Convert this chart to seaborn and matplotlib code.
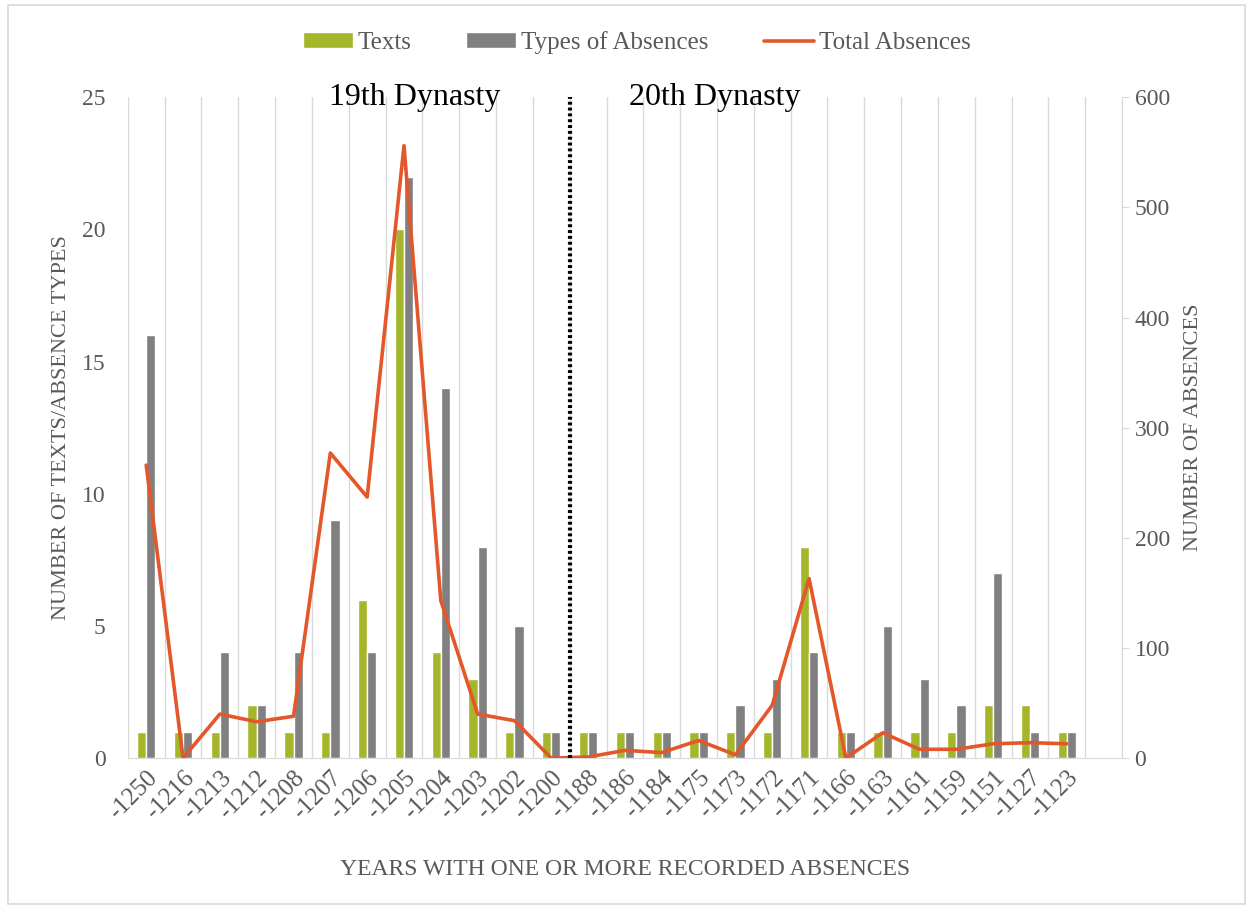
import numpy as np
import pandas as pd
import matplotlib
matplotlib.use('Agg')
import matplotlib.pyplot as plt
import seaborn as sns
from matplotlib.patches import Patch, Rectangle
from matplotlib.lines import Line2D

years = ['-1250', '-1216', '-1213', '-1212', '-1208', '-1207', '-1206', '-1205',
         '-1204', '-1203', '-1202', '-1200', '-1188', '-1186', '-1184', '-1175',
         '-1173', '-1172', '-1171', '-1166', '-1163', '-1161', '-1159', '-1151',
         '-1127', '-1123', '']
texts = [1, 1, 1, 2, 1, 1, 6, 20, 4, 3, 1, 1,
         1, 1, 1, 1, 1, 1, 8, 1, 1, 1, 1, 2, 2, 1, np.nan]
types_abs = [16, 1, 4, 2, 4, 9, 4, 22, 14, 8, 5, 1,
             1, 1, 1, 1, 2, 3, 4, 1, 5, 3, 2, 7, 1, 1, np.nan]
total_abs = [266, 0, 40, 33, 38, 277, 237, 556, 143, 40, 34, 0,
             1, 7, 5, 16, 3, 48, 163, 0, 23, 8, 8, 13, 14, 13, np.nan]

green = '#A5B62B'
grey = '#808080'
orange = '#E4572A'
txt_grey = '#595959'

sns.set_style('white')
plt.rcParams['font.family'] = ['Liberation Serif', 'DejaVu Serif']

df = pd.DataFrame({'year': years * 2,
                   'value': texts + types_abs,
                   'series': ['Texts'] * len(years) + ['Types of Absences'] * len(years)})

fig = plt.figure(figsize=(12.53, 9.09), dpi=100)
ax = fig.add_axes([0.102, 0.166, 0.7935, 0.727])

sns.barplot(data=df, x='year', y='value', hue='series', order=years,
            palette=[green, grey], width=0.5, saturation=1, ax=ax,
            legend=False, errorbar=None)
ax.set_xlim(-0.5, len(years) - 0.5)
ax.set_ylim(0, 25)
ax.set_yticks([0, 5, 10, 15, 20, 25])

ax2 = ax.twinx()
sns.lineplot(x=np.arange(len(years)), y=total_abs, color=orange, linewidth=2.6, ax=ax2)
ax2.set_ylim(0, 600)
ax2.set_yticks(range(0, 601, 100))

# vertical category grid
ax.set_xticks(np.arange(-0.5, len(years), 1), minor=True)
ax.grid(which='minor', axis='x', color='#D9D9D9', linewidth=1)
ax.tick_params(which='minor', length=0)
ax.set_axisbelow(True)

ax.set_xticks(range(len(years)))
ax.set_xticklabels(years, rotation=45, ha='right', rotation_mode='anchor',
                   fontsize=18, color=txt_grey)
ax.tick_params(axis='x', length=0, pad=6)
ax.tick_params(axis='y', length=0, labelsize=17, labelcolor=txt_grey, pad=16)
ax2.tick_params(axis='y', length=5, color='#D9D9D9', labelsize=17, labelcolor=txt_grey, pad=4)

for s in ['top', 'left', 'right']:
    ax.spines[s].set_visible(False)
ax.spines['bottom'].set_color('#D9D9D9')
for s in ['top', 'left', 'bottom']:
    ax2.spines[s].set_visible(False)
ax2.spines['right'].set_color('#D9D9D9')

ax.set_xlabel('YEARS WITH ONE OR MORE RECORDED ABSENCES', fontsize=17, color=txt_grey, labelpad=26)
ax.set_ylabel('NUMBER OF TEXTS/ABSENCE TYPES', fontsize=16, color=txt_grey, labelpad=8)
ax2.set_ylabel('NUMBER OF ABSENCES', fontsize=16, color=txt_grey, labelpad=10)

ax2.axvline(11.5, color='black', linestyle=(0, (0.7, 0.7)), linewidth=3)
ax2.text(7.3, 600, '19th Dynasty', ha='center', va='center', fontsize=23, color='black')
ax2.text(15.45, 600, '20th Dynasty', ha='center', va='center', fontsize=23, color='black')

handles = [Patch(facecolor=green), Patch(facecolor=grey), Line2D([], [], color=orange, linewidth=2.6)]
fig.legend(handles, ['Texts', 'Types of Absences', 'Total Absences'], loc='center',
           bbox_to_anchor=(0.508, 0.953), ncol=3, frameon=False, fontsize=18,
           labelcolor=txt_grey, handlelength=2.0, handleheight=0.6, columnspacing=2.2,
           handletextpad=0.2)

fig.patches.append(Rectangle((0.006, 0.006), 0.988, 0.988, transform=fig.transFigure,
                             fill=False, edgecolor='#D9D9D9', linewidth=1.2))

fig.savefig('out.png', dpi=100)
